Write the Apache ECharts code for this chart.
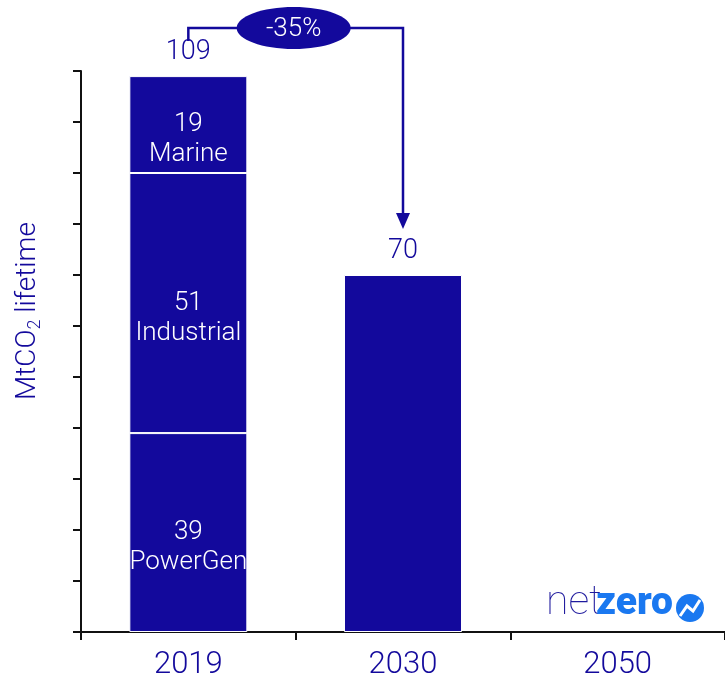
<!DOCTYPE html>
<html>
<head>
<meta charset="utf-8">
<script src="https://cdn.jsdelivr.net/npm/echarts@6/dist/echarts.min.js"></script>
<style>
  html, body { margin: 0; padding: 0; background: #fff; }
  #main { width: 725px; height: 687px; }
</style>
</head>
<body>
<div id="main"></div>
<script>
var years = ['2019', '2030', '2050'];
var powerGen = [39, null, null];
var industrial = [51, null, null];
var marine = [19, null, null];
var total2030 = [null, 70, null];
var totals = [109, 70, null];
var changeLabel = '-35%';

var blue = '#13099c';
var font = "Roboto, 'DejaVu Sans Condensed', sans-serif";

var chart = echarts.init(document.getElementById('main'));

function segLabel(name) {
  return {
    show: true,
    position: 'inside',
    offset: [0, 15],
    color: '#fff',
    fontFamily: font,
    fontWeight: 300,
    fontSize: 26,
    lineHeight: 30,
    overflow: 'none',
    formatter: function (p) { return p.value + '\n' + name; }
  };
}

var barStyle = { color: blue, borderColor: '#fff', borderWidth: 1 };

var option = {
  animation: false,
  grid: { left: 81, top: 71, width: 648, height: 561, containLabel: false },
  xAxis: {
    type: 'category',
    data: years,
    axisLine: { lineStyle: { color: '#111', width: 2 } },
    axisTick: { show: true, length: 8, lineStyle: { color: '#111', width: 2 } },
    axisLabel: { color: blue, fontFamily: font, fontWeight: 300, fontSize: 31, margin: 18 }
  },
  yAxis: {
    type: 'value',
    min: 0,
    max: 110,
    interval: 10,
    axisLine: { show: true, lineStyle: { color: '#111', width: 2 } },
    axisTick: { show: true, length: 8, lineStyle: { color: '#111', width: 2 } },
    axisLabel: { show: false },
    splitLine: { show: false }
  },
  series: [
    { name: 'PowerGen', type: 'bar', stack: 'a', barWidth: 118, data: powerGen,
      itemStyle: barStyle, label: segLabel('PowerGen') },
    { name: 'Industrial', type: 'bar', stack: 'a', barWidth: 118, data: industrial,
      itemStyle: barStyle, label: segLabel('Industrial') },
    { name: 'Marine', type: 'bar', stack: 'a', barWidth: 118, data: marine,
      itemStyle: barStyle, label: segLabel('Marine') },
    { name: '2030', type: 'bar', stack: 'a', barWidth: 118, data: total2030,
      itemStyle: barStyle },
    { name: 'Total', type: 'scatter', data: totals, symbolSize: 0, z: 5,
      itemStyle: { opacity: 1 },
      label: { show: true, position: 'top', distance: 10, color: blue,
        fontFamily: font, fontWeight: 300, fontSize: 27 } }
  ]
};
chart.setOption(option);

// annotation positions from the axes
var x19 = chart.convertToPixel({ xAxisIndex: 0 }, years[0]);
var x30 = chart.convertToPixel({ xAxisIndex: 0 }, years[1]);
var yTop30 = chart.convertToPixel({ yAxisIndex: 0 }, totals[1]);
var lineY = 28;
var midX = (x19 + x30) / 2 - 2;

chart.setOption({
  graphic: [
    { type: 'polyline', z: 10,
      shape: { points: [[x19, 41], [x19, lineY], [x30, lineY], [x30, yTop30 - 58]] },
      style: { stroke: blue, lineWidth: 2.5, fill: null } },
    { type: 'polygon', z: 10,
      shape: { points: [[x30 - 7, yTop30 - 62], [x30 + 7, yTop30 - 62], [x30, yTop30 - 46]] },
      style: { fill: blue } },
    { type: 'ellipse', z: 11,
      shape: { cx: midX, cy: lineY, rx: 57, ry: 21 },
      style: { fill: blue } },
    { type: 'text', z: 12, x: midX, y: lineY + 1,
      style: { text: changeLabel, fill: '#fff', font: '300 26px ' + font,
        textAlign: 'center', textVerticalAlign: 'middle' } },
    { type: 'text', z: 12, x: 28, y: 311, rotation: Math.PI / 2,
      style: {
        text: '{a|MtCO}{s|2}{a| lifetime}',
        textAlign: 'center', textVerticalAlign: 'middle',
        rich: {
          a: { fill: blue, fontFamily: font, fontWeight: 300, fontSize: 28, lineHeight: 30, verticalAlign: 'middle' },
          s: { fill: blue, fontFamily: font, fontWeight: 300, fontSize: 18, lineHeight: 30, padding: [14, 0, 0, 0], verticalAlign: 'middle' }
        }
      } },
    // netzero logo
    { type: 'text', z: 12, x: 546, y: 624,
      style: { text: 'net', fill: '#1f1a9e', font: '100 41px ' + font, textVerticalAlign: 'bottom' } },
    { type: 'text', z: 12, x: 673, y: 624,
      style: { text: 'zero', fill: '#1a78f0', font: '900 39px ' + font, textVerticalAlign: 'bottom', textAlign: 'right' } },
    { type: 'circle', z: 12, shape: { cx: 690, cy: 608, r: 14 }, style: { fill: '#1a78f0' } },
    { type: 'polyline', z: 13,
      shape: { points: [[680, 616], [687, 606], [693, 611], [700, 600]] },
      style: { stroke: '#fff', lineWidth: 3, fill: null } }
  ]
});
</script>
</body>
</html>
